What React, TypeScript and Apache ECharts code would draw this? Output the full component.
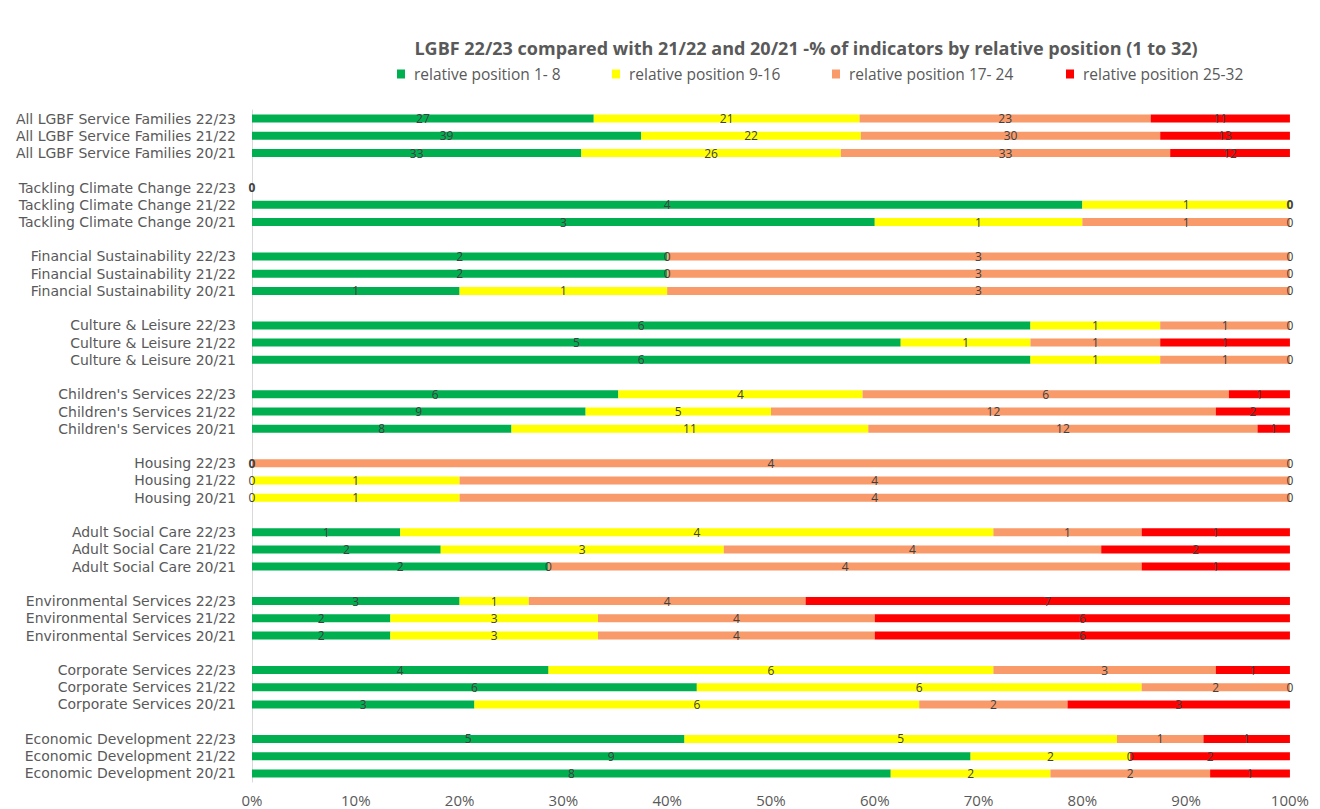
import React, { useEffect, useRef } from "react";
import * as echarts from "echarts";

const categories: string[] = [
  "All LGBF Service Families 22/23", "All LGBF Service Families 21/22", "All LGBF Service Families 20/21", "",
  "Tackling Climate Change 22/23", "Tackling Climate Change 21/22", "Tackling Climate Change 20/21", " ",
  "Financial Sustainability 22/23", "Financial Sustainability 21/22", "Financial Sustainability 20/21", "  ",
  "Culture & Leisure 22/23", "Culture & Leisure 21/22", "Culture & Leisure 20/21", "   ",
  "Children's Services 22/23", "Children's Services 21/22", "Children's Services 20/21", "    ",
  "Housing 22/23", "Housing 21/22", "Housing 20/21", "     ",
  "Adult Social Care 22/23", "Adult Social Care 21/22", "Adult Social Care 20/21", "      ",
  "Environmental Services 22/23", "Environmental Services 21/22", "Environmental Services 20/21", "       ",
  "Corporate Services 22/23", "Corporate Services 21/22", "Corporate Services 20/21", "        ",
  "Economic Development 22/23", "Economic Development 21/22", "Economic Development 20/21",
];

const seriesNames = [
  "relative position 1- 8",
  "relative position 9-16",
  "relative position 17- 24",
  "relative position 25-32",
];

// counts of indicators (null = spacer row)
const pos1to8: (number | null)[] = [
  27, 39, 33, null,
  0, 4, 3, null,
  2, 2, 1, null,
  6, 5, 6, null,
  6, 9, 8, null,
  0, 0, 0, null,
  1, 2, 2, null,
  3, 2, 2, null,
  4, 6, 3, null,
  5, 9, 8,
];
const pos9to16: (number | null)[] = [
  21, 22, 26, null,
  0, 1, 1, null,
  0, 0, 1, null,
  1, 1, 1, null,
  4, 5, 11, null,
  0, 1, 1, null,
  4, 3, 0, null,
  1, 3, 3, null,
  6, 6, 6, null,
  5, 2, 2,
];
const pos17to24: (number | null)[] = [
  23, 30, 33, null,
  0, 0, 1, null,
  3, 3, 3, null,
  1, 1, 1, null,
  6, 12, 12, null,
  4, 4, 4, null,
  1, 4, 4, null,
  4, 4, 4, null,
  3, 2, 2, null,
  1, 0, 2,
];
const pos25to32: (number | null)[] = [
  11, 13, 12, null,
  0, 0, 0, null,
  0, 0, 0, null,
  0, 1, 0, null,
  1, 2, 1, null,
  0, 0, 0, null,
  1, 2, 1, null,
  7, 6, 6, null,
  1, 0, 3, null,
  1, 2, 1,
];

const xTicks = [0, 10, 20, 30, 40, 50, 60, 70, 80, 90, 100];

const colors = ["#00B050", "#FFFF00", "#F89A6A", "#FF0000"];
const FONT = "'Open Sans', sans-serif";
const YFONT = "'DejaVu Sans', sans-serif";

export default function App() {
  const ref = useRef<HTMLDivElement>(null);

  useEffect(() => {
    if (!ref.current) return;
    const chart = echarts.init(ref.current, null, { renderer: "svg" });
    const all = [pos1to8, pos9to16, pos17to24, pos25to32];
    const totals = categories.map((_, i) => {
      if (all[0][i] === null) return null;
      return all.reduce((s, arr) => s + (arr[i] as number), 0);
    });
    const series = all.map((arr, si) => ({
      name: seriesNames[si],
      type: "bar",
      stack: "total",
      barWidth: 8,
      itemStyle: { color: colors[si] },
      data: arr.map((v, i) => {
        if (v === null) return null;
        const t = totals[i] as number;
        const value = t === 0 ? 0 : (v / t) * 100;
        // zero-width segments at the same spot print stacked "0" labels: draw one, bold
        const prevZero = si > 0 && all[si - 1][i] === 0;
        const nextZero = si < 3 && all[si + 1][i] === 0;
        const hide = v === 0 && prevZero;
        return {
          value,
          label: {
            show: !hide,
            fontWeight: v === 0 && nextZero ? "bold" : "normal",
          },
        };
      }),
      label: {
        show: true,
        position: "inside",
        color: "#404040",
        fontSize: 12,
        fontFamily: FONT,
        formatter: (p: any) => String(arr[p.dataIndex]),
      },
    }));
    const legendLefts = [389, 604, 824, 1058];
    chart.setOption({
      animation: false,
      title: {
        text: "LGBF 22/23 compared with 21/22 and 20/21 -% of indicators by relative position (1 to 32)",
        left: 793,
        textAlign: "center",
        top: 26,
        textStyle: { fontSize: 18, fontWeight: "bold", color: "#595959", fontFamily: FONT },
      },
      legend: seriesNames.map((n, i) => ({
        data: [n],
        left: legendLefts[i],
        top: 58,
        padding: 0,
        icon: "rect",
        itemWidth: 8,
        itemHeight: 9,
        textStyle: { fontSize: 15.5, color: "#595959", fontFamily: FONT, padding: [0, 0, 0, 4] },
      })),
      grid: { left: 244, right: 22, top: 102, bottom: 27, containLabel: false },
      xAxis: {
        type: "value",
        min: 0,
        max: 100,
        interval: 10,
        axisLine: { show: false },
        axisTick: { show: false },
        splitLine: { show: false },
        axisLabel: {
          formatter: (v: number) => (xTicks.includes(v) ? v + "%" : ""),
          color: "#595959",
          fontSize: 15,
          fontFamily: FONT,
          margin: 10,
        },
      },
      yAxis: {
        type: "category",
        inverse: true,
        data: categories,
        axisLine: { show: true, lineStyle: { color: "#D9D9D9" } },
        axisTick: { show: false },
        axisLabel: {
          color: "#595959",
          fontSize: 14,
          lineHeight: 14,
          fontFamily: YFONT,
          margin: 16,
          interval: 0,
        },
      },
      series,
    });
    return () => chart.dispose();
  }, []);

  return <div ref={ref} style={{ width: 1304, height: 801 }} />;
}
